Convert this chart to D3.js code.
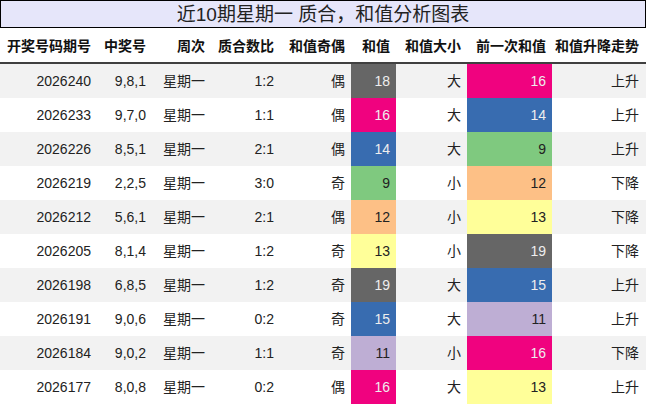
<!DOCTYPE html><html><head><meta charset="utf-8"><script src="https://cdn.jsdelivr.net/npm/d3@7"></script>
<style>body{margin:0;background:#fff}svg{font-family:"Liberation Sans","Noto Sans CJK SC",sans-serif}</style></head><body><svg id="c" width="646" height="405"></svg><script>
const title="近10期星期一 质合，和值分析图表";
const headers=["开奖号码期号","中奖号","周次","质合数比","和值奇偶","和值","和值大小","前一次和值","和值升降走势"];
const periods=["2026240","2026233","2026226","2026219","2026212","2026205","2026198","2026191","2026184","2026177"];
const numbers=["9,8,1","9,7,0","8,5,1","2,2,5","5,6,1","8,1,4","6,8,5","9,0,6","9,0,2","8,0,8"];
const weekday=["星期一","星期一","星期一","星期一","星期一","星期一","星期一","星期一","星期一","星期一"];
const ratio=["1:2","1:1","2:1","3:0","2:1","1:2","1:2","0:2","1:1","0:2"];
const parity=["偶","偶","偶","奇","偶","奇","奇","奇","奇","偶"];
const sums=[18,16,14,9,12,13,19,15,11,16];
const size=["大","大","大","小","小","小","大","大","小","大"];
const prevSums=[16,14,9,12,13,19,15,11,16,13];
const trend=["上升","上升","上升","下降","下降","下降","上升","上升","下降","上升"];
const colorOf={9:"#7fc97f",11:"#beaed4",12:"#fdc086",13:"#ffff99",14:"#386cb0",15:"#386cb0",16:"#f0027f",18:"#666666",19:"#666666"};
const dark=new Set([14,15,16,18,19]);
const bounds=[0,97,152,211,280,351,396,467,552,645];
const svg=d3.select("#c");
svg.append("rect").attr("x",0.5).attr("y",0.5).attr("width",645).attr("height",27).attr("fill","#e6e6fa").attr("stroke","#000");
svg.append("text").attr("x",323).attr("y",21).attr("text-anchor","middle").attr("font-size",19).attr("fill","#222").text(title);
headers.forEach((h,i)=>svg.append("text").attr("x",bounds[i+1]-6).attr("y",51).attr("text-anchor","end").attr("font-size",14).attr("font-weight","bold").attr("fill","#111").text(h));
svg.append("line").attr("x1",0).attr("x2",646).attr("y1",63).attr("y2",63).attr("stroke","#000").attr("stroke-width",1.5);
const y=d3.scaleBand().domain(d3.range(10)).range([64,404]);
const rows=periods.map((p,i)=>[p,numbers[i],weekday[i],ratio[i],parity[i],sums[i],size[i],prevSums[i],trend[i]]);
rows.forEach((r,i)=>{
  const g=svg.append("g").attr("transform",`translate(0,${y(i)})`);
  g.append("rect").attr("width",646).attr("height",y.bandwidth()).attr("fill",i%2==0?"#f2f2f2":"#fff");
  r.forEach((v,j)=>{
    let fill="#222";
    if(j==5||j==7){g.append("rect").attr("x",bounds[j]).attr("width",bounds[j+1]-bounds[j]).attr("height",y.bandwidth()).attr("fill",colorOf[v]);
      if(dark.has(v))fill="#eee";}
    g.append("text").attr("x",bounds[j+1]-6).attr("y",y.bandwidth()/2+5).attr("text-anchor","end").attr("font-size",14).attr("fill",fill).text(v);
  });
});
</script></body></html>
